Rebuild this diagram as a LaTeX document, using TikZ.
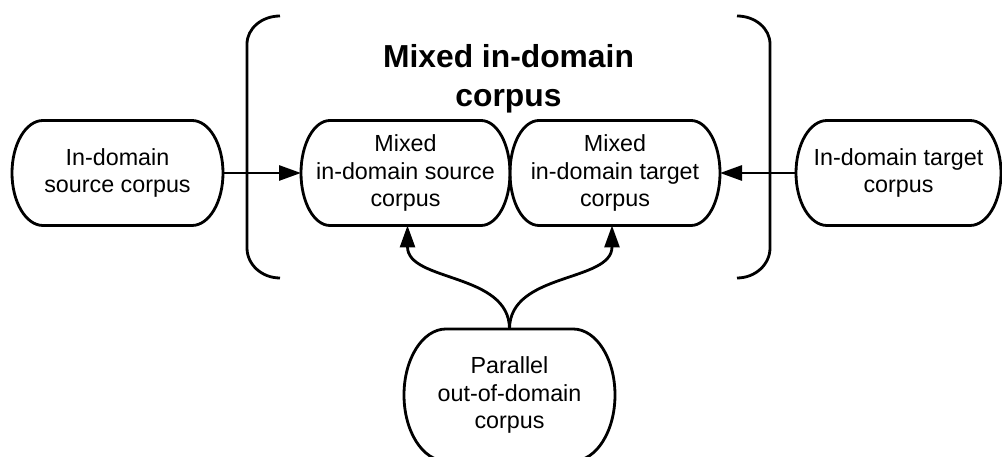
\documentclass[tikz,border=0pt]{standalone}
\usepackage{fontspec}
\setmainfont{Liberation Sans}
\usetikzlibrary{arrows.meta,calc}

% outline of a box with elliptic ends: #1 node, #2 bulge (pt)
\newcommand{\pillpath}[2]{%
  \draw let \p1=(#1.north), \p2=(#1.south), \n1={(\y1-\y2)/2} in
    ([xshift=#2pt]#1.north west) -- ([xshift=-#2pt]#1.north east)
    arc[start angle=90, end angle=-90, x radius=#2pt, y radius=\n1]
    -- ([xshift=#2pt]#1.south west)
    arc[start angle=270, end angle=90, x radius=#2pt, y radius=\n1] -- cycle;}

\tikzset{
  corpus/.style={draw=none, outer sep=0pt, inner sep=0pt, align=center,
    minimum height=105pt, font=\fontsize{23.3}{27.5}\selectfont},
  heading/.style={align=center, font=\fontsize{31.8}{39}\selectfont\bfseries}
}

\begin{document}
\begin{tikzpicture}[x=1pt, y=1pt, >={Triangle[length=22pt,width=15pt]}, line width=2.8pt]
  \useasboundingbox (0,0) rectangle (1002,457);
  \clip (0,0) rectangle (1002,457);

  % 1. boxes
  \node[corpus, minimum width=211pt] (src) at (117.5,284) {In-domain\\source corpus};
  \node[corpus, minimum width=209pt] (mixsrc) at (405.5,284) {Mixed\\in-domain source\\corpus};
  \node[corpus, minimum width=210pt] (mixtgt) at (615,284) {Mixed\\in-domain target\\corpus};
  \node[corpus, minimum width=205pt] (tgt) at (898.5,284) {In-domain target\\corpus};
  \node[corpus, minimum width=211pt, minimum height=132pt] (par) at (509.5,62) {Parallel\\out-of-domain\\corpus};
  \node[heading] (title) at (508.5,378) {Mixed in-domain\\corpus};

  \pillpath{src}{31}
  \pillpath{mixsrc}{29}
  \pillpath{mixtgt}{29}
  \pillpath{tgt}{31}
  \pillpath{par}{42}

  % 2. brackets round the mixed corpus
  \draw (280,441) arc[start angle=90, end angle=180, x radius=33, y radius=28]
    -- (247,209) arc[start angle=180, end angle=270, x radius=33, y radius=30];
  \draw (737,441) arc[start angle=90, end angle=0, x radius=33, y radius=28]
    -- (770,209) arc[start angle=0, end angle=-90, x radius=33, y radius=30];

  % 3. arrows
  \draw[->] (src.east) -- (mixsrc.west);
  \draw[->] (tgt.west) -- (mixtgt.east);
  \draw[->] (par.north) to[out=90, in=-90] ([xshift=2pt]mixsrc.south);
  \draw[->] (par.north) to[out=90, in=-90] ([xshift=-3pt]mixtgt.south);
\end{tikzpicture}
\end{document}
